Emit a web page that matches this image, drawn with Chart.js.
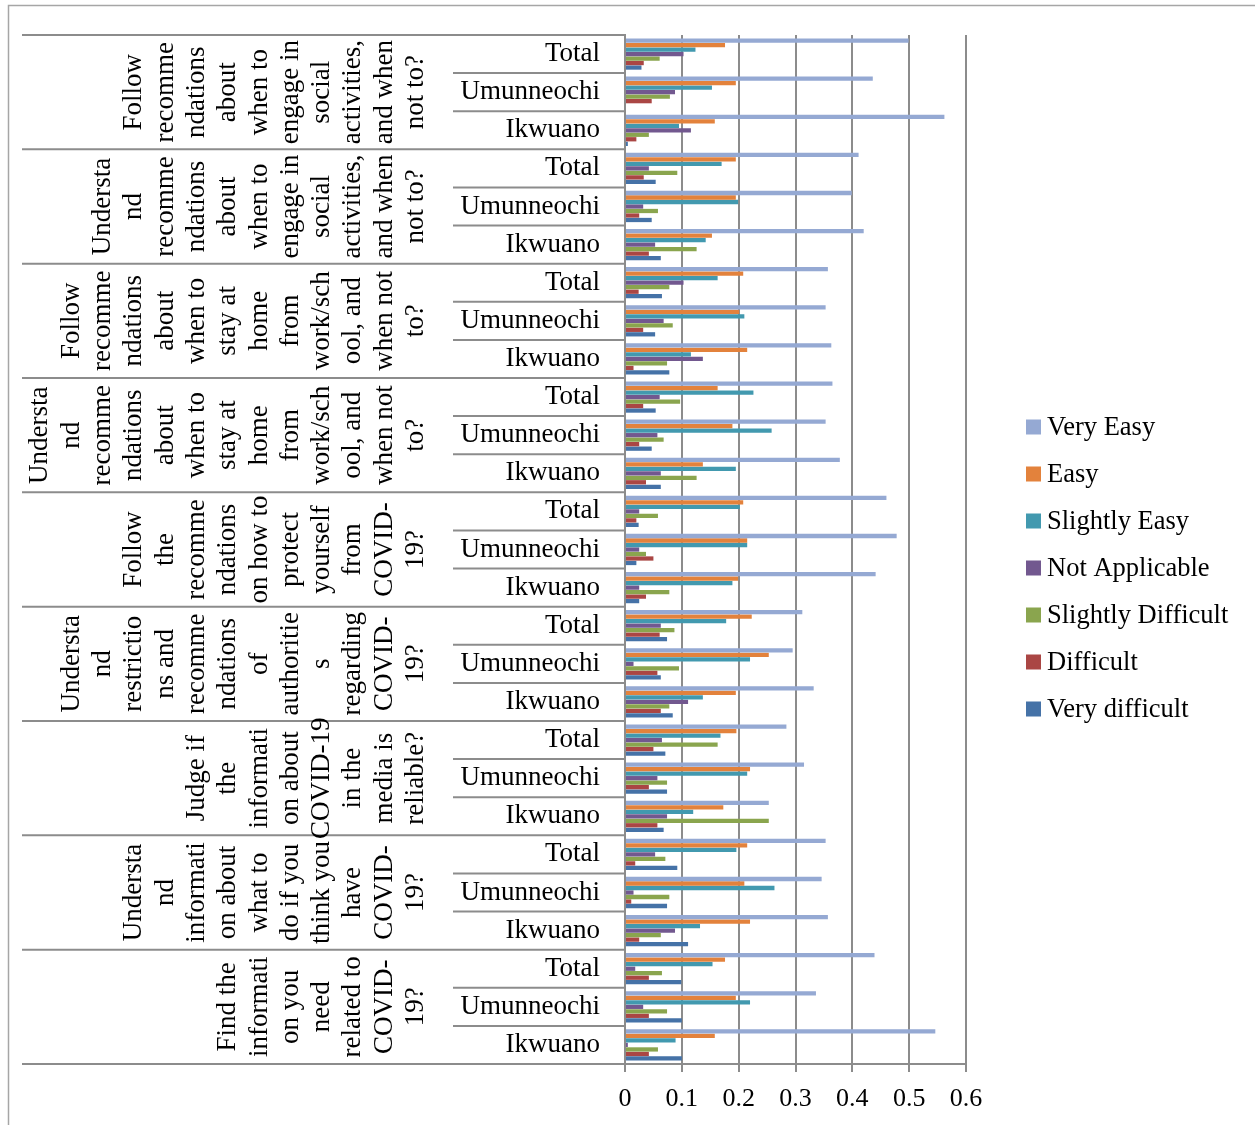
<!DOCTYPE html>
<html><head><meta charset="utf-8">
<script src="https://cdn.jsdelivr.net/npm/chart.js@4.4.0/dist/chart.umd.min.js"></script>
<style>html,body{margin:0;padding:0;background:#fff;} #wrap{position:relative;width:1255px;height:1125px;}</style>
</head><body><div id="wrap"><canvas id="c" width="1255" height="1125"></canvas></div>
<script>
const regions = ['Total', 'Umunneochi', 'Ikwuano'];
const groupLines = [
  ['Follow','recomme','ndations','about','when to','engage in','social','activities,','and when','not to?'],
  ['Understa','nd','recomme','ndations','about','when to','engage in','social','activities,','and when','not to?'],
  ['Follow','recomme','ndations','about','when to','stay at','home','from','work/sch','ool, and','when not','to?'],
  ['Understa','nd','recomme','ndations','about','when to','stay at','home','from','work/sch','ool, and','when not','to?'],
  ['Follow','the','recomme','ndations','on how to','protect','yourself','from','COVID-','19?'],
  ['Understa','nd','restrictio','ns and','recomme','ndations','of','authoritie','s','regarding','COVID-','19?'],
  ['Judge if','the','informati','on about','COVID-19','in the','media is','reliable?'],
  ['Understa','nd','informati','on about','what to','do if you','think you','have','COVID-','19?'],
  ['Find the','informati','on you','need','related to','COVID-','19?']
];
const seriesNames = ['Very Easy','Easy','Slightly Easy','Not Applicable','Slightly Difficult','Difficult','Very difficult'];
const seriesColors = ['#95a9d3','#e3823c','#4299af','#72588f','#8aa54e','#aa4644','#4572a7'];
const xTickLabels = ['0','0.1','0.2','0.3','0.4','0.5','0.6'];

// values ordered top to bottom: group1 Total, Umunneochi, Ikwuano, group2 ...
const veryEasy = [0.499,0.436,0.562, 0.411,0.399,0.420, 0.357,0.353,0.363, 0.365,0.353,0.378, 0.460,0.478,0.441, 0.312,0.295,0.332, 0.284,0.315,0.253, 0.353,0.346,0.357, 0.439,0.336,0.546];
const easy = [0.176,0.195,0.158, 0.195,0.195,0.153, 0.208,0.201,0.215, 0.163,0.189,0.137, 0.208,0.215,0.199, 0.223,0.253,0.195, 0.196,0.220,0.173, 0.215,0.210,0.220, 0.176,0.195,0.158];
const slightlyEasy = [0.124,0.153,0.095, 0.170,0.199,0.142, 0.163,0.210,0.116, 0.226,0.258,0.195, 0.202,0.215,0.189, 0.178,0.220,0.137, 0.168,0.215,0.120, 0.196,0.263,0.132, 0.154,0.220,0.089];
const notApplicable = [0.103,0.088,0.116, 0.042,0.032,0.053, 0.103,0.068,0.137, 0.061,0.057,0.063, 0.025,0.025,0.025, 0.063,0.015,0.111, 0.065,0.057,0.074, 0.053,0.015,0.088, 0.018,0.032,0.005];
const slightlyDifficult = [0.061,0.079,0.042, 0.092,0.058,0.126, 0.078,0.084,0.074, 0.097,0.068,0.126, 0.058,0.037,0.078, 0.087,0.095,0.078, 0.163,0.074,0.253, 0.071,0.078,0.063, 0.065,0.074,0.058];
const difficult = [0.033,0.047,0.020, 0.033,0.025,0.042, 0.024,0.032,0.015, 0.032,0.025,0.037, 0.020,0.050,0.037, 0.061,0.057,0.063, 0.050,0.042,0.057, 0.018,0.011,0.025, 0.042,0.042,0.042];
const veryDifficult = [0.029,0.000,0.005, 0.054,0.047,0.063, 0.065,0.053,0.078, 0.054,0.047,0.063, 0.024,0.020,0.025, 0.074,0.063,0.084, 0.071,0.074,0.068, 0.092,0.074,0.111, 0.099,0.100,0.100];

const seriesValues = [veryEasy, easy, slightlyEasy, notApplicable, slightlyDifficult, difficult, veryDifficult];
const categoryLabels = [];
groupLines.forEach(() => regions.forEach(r => categoryLabels.push(r)));

const FONT = '"Liberation Serif", "Times New Roman", serif';

const decor = {
  id: 'decor',
  afterDraw(chart) {
    const {ctx, chartArea} = chart;
    const {left, top, bottom} = chartArea;
    const n = chart.data.labels.length;
    const band = (bottom - top) / n;
    ctx.save();
    // outer frame
    ctx.strokeStyle = '#a6a6a6'; ctx.lineWidth = 1.5;
    ctx.beginPath(); ctx.moveTo(8.5, 1125); ctx.lineTo(8.5, 5.5); ctx.lineTo(1255, 5.5); ctx.stroke();
    // category separators
    ctx.strokeStyle = '#8c8c8c'; ctx.lineWidth = 2;
    for (let i = 0; i <= n; i++) {
      const y = top + i * band;
      const x0 = (i % 3 === 0) ? 22 : 453;
      ctx.beginPath(); ctx.moveTo(x0, y); ctx.lineTo(left, y); ctx.stroke();
    }
    // group labels (rotated)
    ctx.fillStyle = '#000';
    ctx.font = '27px ' + FONT;
    ctx.textAlign = 'center'; ctx.textBaseline = 'middle';
    groupLines.forEach((lines, g) => {
      const yc = top + (g * 3 + 1.5) * band;
      lines.forEach((t, k) => {
        const x = 416 - (lines.length - 1 - k) * 31.3;
        ctx.save(); ctx.translate(x, yc); ctx.rotate(-Math.PI / 2); ctx.fillText(t, 0, 0); ctx.restore();
      });
    });
    // legend
    ctx.font = '26.5px ' + FONT;
    ctx.textAlign = 'left';
    chart.data.datasets.forEach((ds, i) => {
      const yc = 427 + 47 * i;
      ctx.fillStyle = ds.backgroundColor;
      ctx.fillRect(1026, yc - 7.5, 15, 15);
      ctx.fillStyle = '#000';
      ctx.fillText(ds.label, 1047, yc + 1);
    });
    ctx.restore();
  }
};

new Chart(document.getElementById('c'), {
  type: 'bar',
  data: {
    labels: categoryLabels,
    datasets: seriesNames.map((name, i) => ({
      label: name,
      data: seriesValues[i],
      backgroundColor: seriesColors[i],
      borderWidth: 0,
      categoryPercentage: 0.826,
      barPercentage: 0.95
    }))
  },
  options: {
    indexAxis: 'y',
    responsive: false,
    animation: false,
    devicePixelRatio: 1,
    layout: {padding: {top: 35, right: 289, bottom: 0, left: 0}},
    plugins: {legend: {display: false}, tooltip: {enabled: false}},
    scales: {
      x: {
        min: 0, max: 0.6,
        ticks: {stepSize: 0.1, autoSkip: false, maxRotation: 0, padding: 12, color: '#000',
          font: {family: FONT, size: 26},
          callback: (v, i) => xTickLabels[i]},
        grid: {color: '#8c8c8c', lineWidth: 2, tickLength: 8, drawTicks: true},
        border: {display: true, color: '#8c8c8c', width: 2},
        afterFit: (s) => { s.height = 61; s.paddingLeft = 0; s.paddingRight = 0; }
      },
      y: {
        type: 'category',
        ticks: {autoSkip: false, padding: 25, color: '#000', font: {family: FONT, size: 27}},
        grid: {display: false, drawTicks: false},
        border: {display: true, color: '#8c8c8c', width: 2},
        afterFit: (s) => { s.width = 625; s.paddingTop = 0; s.paddingBottom = 0; }
      }
    }
  },
  plugins: [decor]
});
</script></body></html>
